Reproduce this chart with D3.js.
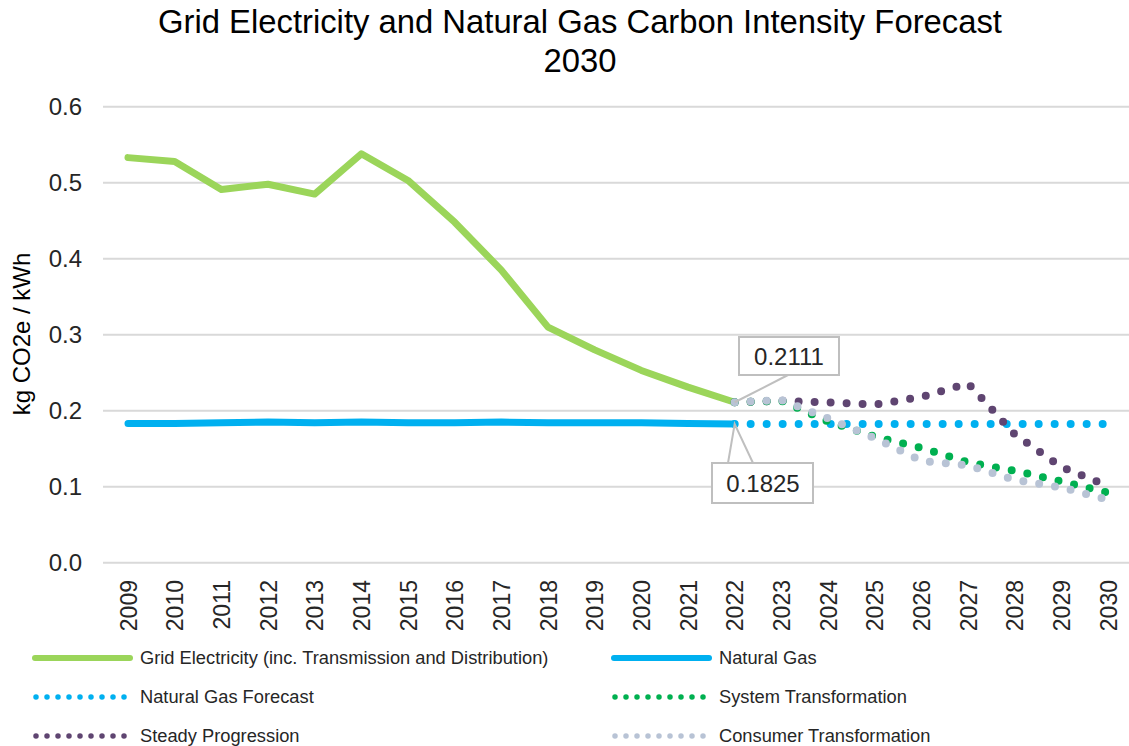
<!DOCTYPE html>
<html>
<head>
<meta charset="utf-8">
<script src="https://cdn.jsdelivr.net/npm/d3@7"></script>
<style>
  body { margin: 0; background: #fff; }
  text { font-family: Arial, "Liberation Sans", sans-serif; }
</style>
</head>
<body>
<script>
// years on the x axis
var years = ["2009", "2010", "2011", "2012", "2013", "2014", "2015", "2016", "2017", "2018", "2019",
             "2020", "2021", "2022", "2023", "2024", "2025", "2026", "2027", "2028", "2029", "2030"];
var histYears = years.slice(0, 14);      // 2009 - 2022
var forecastYears = years.slice(13);     // 2022 - 2030

// kg CO2e / kWh
var gridElectricity = [0.533, 0.528, 0.491, 0.498, 0.485, 0.538, 0.503, 0.448, 0.385, 0.310, 0.280, 0.253, 0.231, 0.2111];
var naturalGas = [0.183, 0.183, 0.184, 0.185, 0.184, 0.185, 0.184, 0.184, 0.185, 0.184, 0.184, 0.184, 0.183, 0.1825];
var naturalGasForecast = [0.1825, 0.1825, 0.1825, 0.1825, 0.1825, 0.1825, 0.1825, 0.1825, 0.1825];
var steadyProgression = [0.2111, 0.213, 0.211, 0.208, 0.218, 0.236, 0.169, 0.126, 0.101];
var systemTransformation = [0.2111, 0.213, 0.186, 0.166, 0.151, 0.132, 0.121, 0.107, 0.092];
var consumerTransformation = [0.2111, 0.214, 0.190, 0.164, 0.134, 0.128, 0.109, 0.099, 0.083];

var yTicks = [0, 0.1, 0.2, 0.3, 0.4, 0.5, 0.6];

var width = 1129;
var height = 746;

var svg = d3.select("body")
    .append("svg")
    .attr("width", width)
    .attr("height", height);

var x = d3.scalePoint()
    .domain(years)
    .range([128, 1108]);

var y = d3.scaleLinear()
    .domain([0, 0.6])
    .range([562.7, 106.7]);

// title
svg.append("text")
    .attr("x", 580).attr("y", 33)
    .attr("text-anchor", "middle")
    .style("font-size", "32.8px")
    .attr("fill", "#000")
    .text("Grid Electricity and Natural Gas Carbon Intensity Forecast");
svg.append("text")
    .attr("x", 580).attr("y", 72)
    .attr("text-anchor", "middle")
    .style("font-size", "32.8px")
    .attr("fill", "#000")
    .text("2030");

// gridlines
svg.append("g")
    .selectAll("line")
    .data(yTicks)
    .enter()
    .append("line")
    .attr("x1", 103).attr("x2", 1129)
    .attr("y1", function(d) { return y(d); })
    .attr("y2", function(d) { return y(d); })
    .attr("stroke", "#D9D9D9")
    .attr("stroke-width", 2);

// y axis
var yAxis = svg.append("g")
    .attr("transform", "translate(90,0)")
    .call(d3.axisLeft(y).tickValues(yTicks).tickFormat(d3.format(".1f")).tickSize(0).tickPadding(8));
yAxis.select(".domain").remove();
yAxis.selectAll("text")
    .style("font-size", "24px")
    .attr("fill", "#262626");

// x axis
var xAxis = svg.append("g")
    .attr("transform", "translate(0,575)")
    .call(d3.axisBottom(x).tickSize(0).tickPadding(0));
xAxis.select(".domain").remove();
xAxis.selectAll("text")
    .style("font-size", "23px")
    .attr("fill", "#262626")
    .attr("text-anchor", "end")
    .attr("transform", "rotate(-90)")
    .attr("x", -5)
    .attr("y", 0)
    .attr("dy", "0.36em");

// y axis title
svg.append("text")
    .attr("transform", "translate(30,334) rotate(-90)")
    .attr("text-anchor", "middle")
    .style("font-size", "24px")
    .attr("fill", "#000")
    .text("kg CO2e / kWh");

var line = d3.line()
    .x(function(d) { return x(d[0]); })
    .y(function(d) { return y(d[1]); });

function pairs(xs, vals) {
    return xs.map(function(d, i) { return [d, vals[i]]; });
}

//solid series
svg.append("path")
    .attr("d", line(pairs(histYears, naturalGas)))
    .attr("fill", "none")
    .attr("stroke", "#00B0F0")
    .attr("stroke-width", 7)
    .attr("stroke-linecap", "round")
    .attr("stroke-linejoin", "round");

svg.append("path")
    .attr("d", line(pairs(histYears, gridElectricity)))
    .attr("fill", "none")
    .attr("stroke", "#9BD55A")
    .attr("stroke-width", 7)
    .attr("stroke-linecap", "round")
    .attr("stroke-linejoin", "round");

// dotted forecasts
var dotted = [
    {vals: naturalGasForecast, color: "#00B0F0"},
    {vals: steadyProgression, color: "#5F4571"},
    {vals: systemTransformation, color: "#00B050"},
    {vals: consumerTransformation, color: "#B8C3D5"}
];
dotted.forEach(function(s) {
    svg.append("path")
        .attr("d", line(pairs(forecastYears, s.vals)))
        .attr("fill", "none")
        .attr("stroke", s.color)
        .attr("stroke-width", 8)
        .attr("stroke-linecap", "round")
        .attr("stroke-dasharray", "0 16");
});

// callouts
var p1x = x("2022"), p1y = y(gridElectricity[13]);
svg.append("line")
    .attr("x1", 788).attr("y1", 375)
    .attr("x2", p1x).attr("y2", p1y)
    .attr("stroke", "#BFBFBF")
    .attr("stroke-width", 2);
svg.append("rect")
    .attr("x", 739).attr("y", 337)
    .attr("width", 100).attr("height", 38)
    .attr("fill", "#fff")
    .attr("stroke", "#BFBFBF")
    .attr("stroke-width", 2);
svg.append("text")
    .attr("x", 789).attr("y", 365)
    .attr("text-anchor", "middle")
    .style("font-size", "24px")
    .attr("fill", "#262626")
    .text(d3.format(".4f")(gridElectricity[13]));

var p2x = x("2022"), p2y = y(naturalGas[13]);
svg.append("path")
    .attr("d", "M728," + 463 + "L" + p2x + "," + p2y + "L753,463")
    .attr("fill", "none")
    .attr("stroke", "#BFBFBF")
    .attr("stroke-width", 2);
svg.append("rect")
    .attr("x", 712).attr("y", 463)
    .attr("width", 101).attr("height", 40)
    .attr("fill", "#fff")
    .attr("stroke", "#BFBFBF")
    .attr("stroke-width", 2);
svg.append("text")
    .attr("x", 763).attr("y", 492)
    .attr("text-anchor", "middle")
    .style("font-size", "24px")
    .attr("fill", "#262626")
    .text(d3.format(".4f")(naturalGas[13]));

// legend
var legendItems = [
    {name: "Grid Electricity (inc. Transmission and Distribution)", color: "#9BD55A", dots: false, col: 0, row: 0},
    {name: "Natural Gas", color: "#00B0F0", dots: false, col: 1, row: 0},
    {name: "Natural Gas Forecast", color: "#00B0F0", dots: true, col: 0, row: 1},
    {name: "System Transformation", color: "#00B050", dots: true, col: 1, row: 1},
    {name: "Steady Progression", color: "#5F4571", dots: true, col: 0, row: 2},
    {name: "Consumer Transformation", color: "#B8C3D5", dots: true, col: 1, row: 2}
];
var colX = [35, 614];
var rowY = [658, 697, 736];

var legend = svg.append("g")
    .selectAll("g")
    .data(legendItems)
    .enter()
    .append("g")
    .attr("transform", function(d) { return "translate(" + colX[d.col] + "," + rowY[d.row] + ")"; });

legend.append("line")
    .attr("x1", function(d) { return d.dots ? 1 : 0; })
    .attr("x2", function(d) { return d.dots ? 90 : 95; })
    .attr("stroke", function(d) { return d.color; })
    .attr("stroke-width", function(d) { return d.dots ? 5.5 : 6; })
    .attr("stroke-linecap", "round")
    .attr("stroke-dasharray", function(d) { return d.dots ? "0 11" : null; });

legend.append("text")
    .attr("x", 105)
    .attr("dy", "0.35em")
    .style("font-size", "18.3px")
    .attr("fill", "#262626")
    .text(function(d) { return d.name; });
</script>
</body>
</html>
